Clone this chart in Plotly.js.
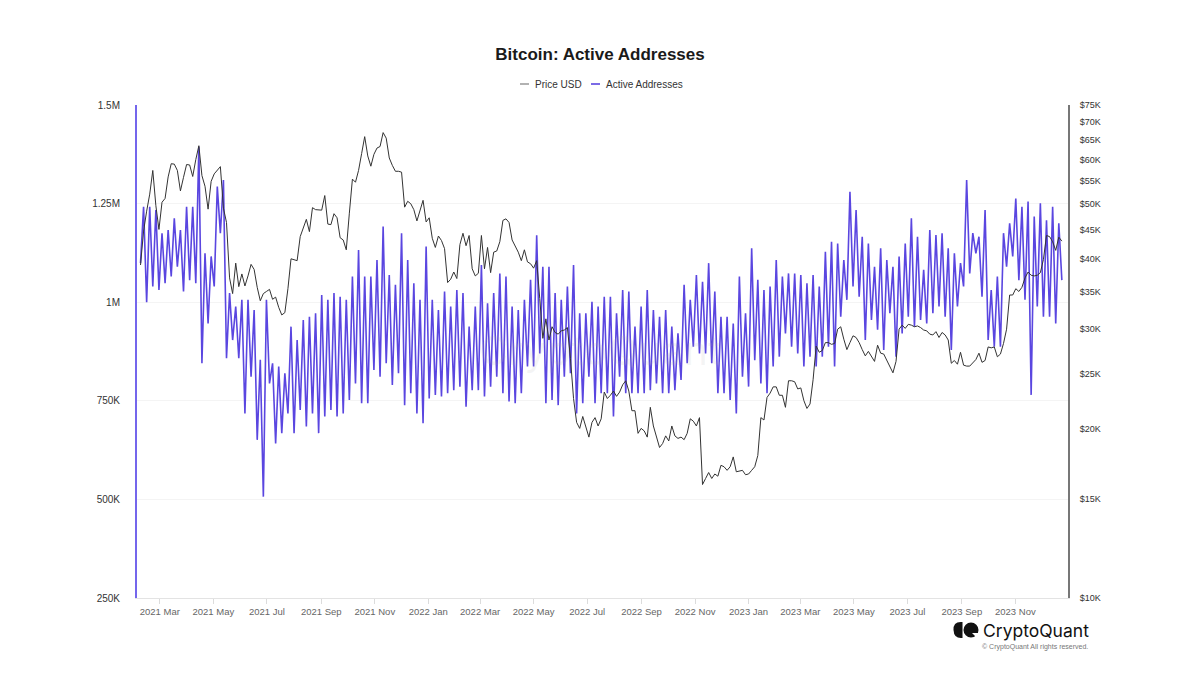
<!DOCTYPE html>
<html><head><meta charset="utf-8">
<script src="https://cdn.plot.ly/plotly-3.0.1.min.js"></script>
<style>html,body{margin:0;padding:0;background:#fff;} #chart{width:1200px;height:680px;}</style>
</head><body><div id="chart"></div>
<script>
// Sampling: every 3.5 days starting Sunday 2021-02-07 (even index = Sunday, odd index = Wednesday noon)
const startDate = '2021-02-07';
const stepDays = 3.5;

// Active addresses, thousands
const activeAddressesK = [
1099,1242, 1000,1242, 1040,1234, 1031,1175, 1048,1183, 1065,1213, 1090,1183, 1027,1242, 1056,1242, 1048,1394,
845,1124, 946,1116, 1040,1293, 1175,1310, 858,1023, 904,989, 858,1006, 718,1006, 811,980, 651,854,
507,1006, 794,845, 642,837, 668,820, 718,938, 668,904, 727,955, 685,963, 718,972, 668,1018,
710,1006, 727,1023, 710,1014, 718,1006, 752,1065, 794,1132, 744,1065, 744,1065, 828,1107, 811,1192,
845,1069, 790,1044, 820,1175, 739,1107, 769,1048, 718,1006, 693,1141, 756,1006, 765,980, 761,1027,
769,989, 777,1031, 786,1023, 735,938, 777,989, 777,1094, 761,997, 786,1023, 811,1073, 769,1065,
748,989, 744,980, 769,1006, 837,1057, 837,1170, 870,1090, 744,1090, 752,1023, 739,1006, 811,1040,
820,1094, 718,972, 744,972, 811,1001, 744,989, 769,1014, 769,1014, 710,972, 811,1031, 769,1027,
769,938, 769,989, 769,1031, 777,980, 794,963, 769,980, 769,938, 777,921, 803,1044, 845,1006,
887,1069, 870,1052, 870,1099, 845,1027, 769,963, 769,963, 752,946, 718,1065, 811,972, 786,1137,
853,1057, 794,1031, 769,1040, 837,1107, 862,1065, 921,1073, 887,1073, 870,1069, 837,1048, 862,1069,
837,1040, 862,1128, 887,1153, 837,1149, 963,1107, 1006,1280, 1040,1234, 1014,1166, 904,1149, 955,1090,
930,1137, 879,1107, 972,1090, 862,1116, 921,1149, 963,1213, 938,1166, 955,1082, 946,1183, 972,1170,
989,1175, 963,1137, 879,1124, 989,1099, 1040,1310, 1073,1175, 1124,1166, 1014,1234, 904,1031, 887,1065,
887,1175, 1090,1200, 1116,1263, 1056,1242, 1006,1255, 765,1217, 989,1251, 963,1208, 963,1242, 946,1200,
1056
];

// Bitcoin price, thousands of USD
const priceUsdK = [
39.0,44.8, 48.6,52.1, 57.4,49.7, 45.1,50.4, 51.2,55.9, 59.0,58.9, 57.4,52.8, 55.8,58.8, 58.7,56.0, 60.0,63.5,
56.2,53.8, 49.0,54.9, 56.6,57.5, 58.3,49.2, 46.4,37.0, 34.7,39.3, 35.7,37.6, 35.8,37.3, 39.1,38.3, 35.6,33.7,
34.7,35.0, 35.3,33.9, 34.2,32.8, 31.8,32.1, 35.4,40.0, 39.9,39.7, 43.8,45.6, 47.0,44.7, 49.3,48.9, 48.8,48.8,
51.8,46.1, 46.0,48.1, 47.3,43.6, 43.2,41.5, 48.2,55.4, 54.7,57.4, 61.5,65.9, 60.9,58.4, 61.3,62.9, 63.3,67.0,
65.5,60.4, 58.6,57.2, 57.2,57.0, 49.4,50.6, 50.1,48.9, 46.7,48.6, 50.8,46.5, 47.3,43.5, 41.9,43.9, 43.1,41.7,
36.3,36.8, 37.9,36.9, 42.4,44.4, 42.2,44.0, 38.4,37.3, 37.7,44.0, 38.4,41.9, 37.8,41.1, 41.3,42.9, 46.8,47.1,
46.4,43.2, 42.2,41.1, 39.7,41.5, 39.5,39.2, 38.5,39.7, 34.0,28.9, 31.3,28.7, 30.3,29.6, 29.4,29.8, 29.9,30.2,
26.6,22.6, 20.5,20.0, 21.0,20.1, 19.3,20.5, 20.9,20.2, 20.8,23.2, 22.6,22.9, 23.3,22.8, 23.2,23.9, 24.3,23.3,
21.5,21.5, 19.6,20.0, 19.8,19.3, 21.8,20.2, 19.4,18.5, 18.8,19.4, 19.0,20.2, 19.4,19.2, 19.3,19.1, 19.6,20.8,
20.6,20.2, 20.9,15.9, 16.3,16.7, 16.3,16.6, 16.45,17.2, 17.1,16.85, 17.1,17.8, 16.75,16.8, 16.85,16.55, 16.6,16.85,
17.1,17.9, 20.9,20.7, 22.7,23.1, 23.7,23.7, 22.9,22.9, 21.8,24.3, 24.3,24.2, 23.5,23.6, 22.4,21.7, 22.1,24.4,
28.0,27.3, 27.5,28.4, 28.4,28.2, 28.3,30.0, 30.3,28.8, 27.6,28.4, 29.2,29.0, 28.4,27.6, 26.9,27.4, 26.8,26.3,
28.1,27.2, 27.1,26.4, 25.9,25.1, 26.3,30.0, 30.5,30.1, 30.6,30.5, 30.3,30.4, 30.2,29.9, 29.8,29.4, 29.3,29.7,
29.0,29.6, 29.3,28.7, 26.1,26.4, 26.0,27.3, 25.9,25.8, 25.8,26.2, 26.5,27.2, 26.2,26.4, 27.9,27.8, 27.9,26.8,
27.1,28.3, 30.0,34.5, 34.5,35.4, 35.0,35.6, 37.0,37.9, 37.4,37.3, 37.4,37.8, 39.9,44.0, 43.8,42.9, 41.4,43.7,
43.0
];

const leftTickVals = [250, 500, 750, 1000, 1250, 1500];
const leftTickText = ['250K', '500K', '750K', '1M', '1.25M', '1.5M'];
const rightTickVals = [10, 15, 20, 25, 30, 35, 40, 45, 50, 55, 60, 65, 70, 75];
const rightTickText = ['$10K','$15K','$20K','$25K','$30K','$35K','$40K','$45K','$50K','$55K','$60K','$65K','$70K','$75K'];

function buildDates(n) {
  const t0 = Date.parse(startDate + 'T00:00:00Z');
  const out = [];
  for (let i = 0; i < n; i++) {
    const d = new Date(t0 + i * stepDays * 86400000);
    out.push(d.toISOString().slice(0, 19).replace('T', ' '));
  }
  return out;
}

const aaDates = buildDates(activeAddressesK.length);
const priceDates = buildDates(priceUsdK.length);

const AA_COLOR = '#5a46e0';
const PRICE_COLOR = '#333333';

// plot area geometry (for placing decorations)
const L = 137, R = 132, T = 105, B = 82, W = 1200, H = 680;
const pw = W - L - R, ph = H - T - B;
const px2x = p => (p - L) / pw;
const px2y = p => (H - B - p) / ph;

const traces = [
  {x: aaDates, y: activeAddressesK, type: 'scatter', mode: 'lines', name: 'Active Addresses',
   line: {color: AA_COLOR, width: 1.6}, yaxis: 'y', hoverinfo: 'x+y'},
  {x: priceDates, y: priceUsdK, type: 'scatter', mode: 'lines', name: 'Price USD',
   line: {color: PRICE_COLOR, width: 1}, yaxis: 'y2', hoverinfo: 'x+y'}
];

function leaf() {
  const p = (a, b) => px2x(a).toFixed(5) + ',' + px2y(b).toFixed(5);
  return 'M' + p(962.5, 622) + ' Q' + p(953, 621) + ' ' + p(953.5, 630) + ' Q' + p(954, 639) + ' ' + p(962.5, 638) + ' Z';
}

const legendY = px2y(84.5);
const layout = {
  width: W, height: H,
  margin: {l: L, r: R, t: T, b: B, pad: 0},
  paper_bgcolor: '#ffffff', plot_bgcolor: '#ffffff',
  font: {family: 'Liberation Sans, Arial, sans-serif', color: '#333'},
  showlegend: false,
  title: {text: '<b>Bitcoin: Active Addresses</b>', font: {size: 17, color: '#1a1a1a'},
          x: 0.5, xref: 'container', y: 1 - 54 / 680, yref: 'container', yanchor: 'middle'},
  xaxis: {type: 'date', range: ['2021-02-03', '2023-12-31'], tickformat: '%Y %b', dtick: 'M2', tick0: '2021-03-01',
          ticks: 'outside', ticklen: 5, tickcolor: '#dcdcdc', showline: true, linecolor: '#e3e3e3', linewidth: 1,
          showgrid: false, zeroline: false, tickfont: {size: 9.5, color: '#666'}},
  yaxis: {range: [250, 1500], tickvals: leftTickVals, ticktext: leftTickText, showgrid: true, gridcolor: '#f4f4f4',
          showline: true, linecolor: '#7466ec', linewidth: 2, zeroline: false, ticks: '',
          tickfont: {size: 10, color: '#333'}, ticklabelstandoff: 13},
  yaxis2: {type: 'log', range: [1, Math.log10(75)], overlaying: 'y', side: 'right', tickvals: rightTickVals,
           ticktext: rightTickText, showgrid: false, showline: true, linecolor: '#777', linewidth: 2,
           zeroline: false, ticks: '', tickfont: {size: 9, color: '#333'}, ticklabelstandoff: 8},
  annotations: [
    {xref: 'paper', yref: 'paper', x: px2x(533), y: legendY, text: 'Price USD', showarrow: false,
     font: {size: 10, color: '#333'}, xanchor: 'left', yanchor: 'middle'},
    {xref: 'paper', yref: 'paper', x: px2x(604), y: legendY, text: 'Active Addresses', showarrow: false,
     font: {size: 10, color: '#333'}, xanchor: 'left', yanchor: 'middle'},
    {xref: 'paper', yref: 'paper', x: px2x(600), y: px2y(350), text: 'CryptoQuant', showarrow: false,
     font: {size: 40, color: 'rgba(170,170,170,0.12)', family: 'Inter, Liberation Sans, sans-serif'}},
    {xref: 'paper', yref: 'paper', x: px2x(1091), y: px2y(630), text: 'CryptoQuant', showarrow: false,
     xanchor: 'right', yanchor: 'middle', font: {size: 17.5, color: '#111', family: 'Inter, Liberation Sans, sans-serif'}},
    {xref: 'paper', yref: 'paper', x: px2x(1090), y: px2y(647), text: '© CryptoQuant All rights reserved.', showarrow: false,
     xanchor: 'right', yanchor: 'middle', font: {size: 7, color: '#777'}}
  ],
  shapes: [
    {type: 'line', xref: 'paper', yref: 'paper', x0: px2x(520), x1: px2x(529), y0: px2y(84), y1: px2y(84),
     line: {color: '#888', width: 1.3}},
    {type: 'line', xref: 'paper', yref: 'paper', x0: px2x(591), x1: px2x(600), y0: px2y(84), y1: px2y(84),
     line: {color: AA_COLOR, width: 1.6}},
    {type: 'path', xref: 'paper', yref: 'paper', path: leaf(), fillcolor: '#111', line: {width: 0}},
    {type: 'circle', xref: 'paper', yref: 'paper', x0: px2x(963.5), x1: px2x(978.5), y0: px2y(637.5), y1: px2y(622.5),
     fillcolor: '#111', line: {width: 0}},
    {type: 'path', xref: 'paper', yref: 'paper',
     path: 'M' + px2x(972) + ',' + px2y(633) + ' L' + px2x(979) + ',' + px2y(640) + ' L' + px2x(979) + ',' + px2y(633) + ' Z',
     fillcolor: '#ffffff', line: {width: 0}}
  ]
};

Plotly.newPlot('chart', traces, layout, {displayModeBar: false, responsive: false, staticPlot: true});
</script>
</body></html>
